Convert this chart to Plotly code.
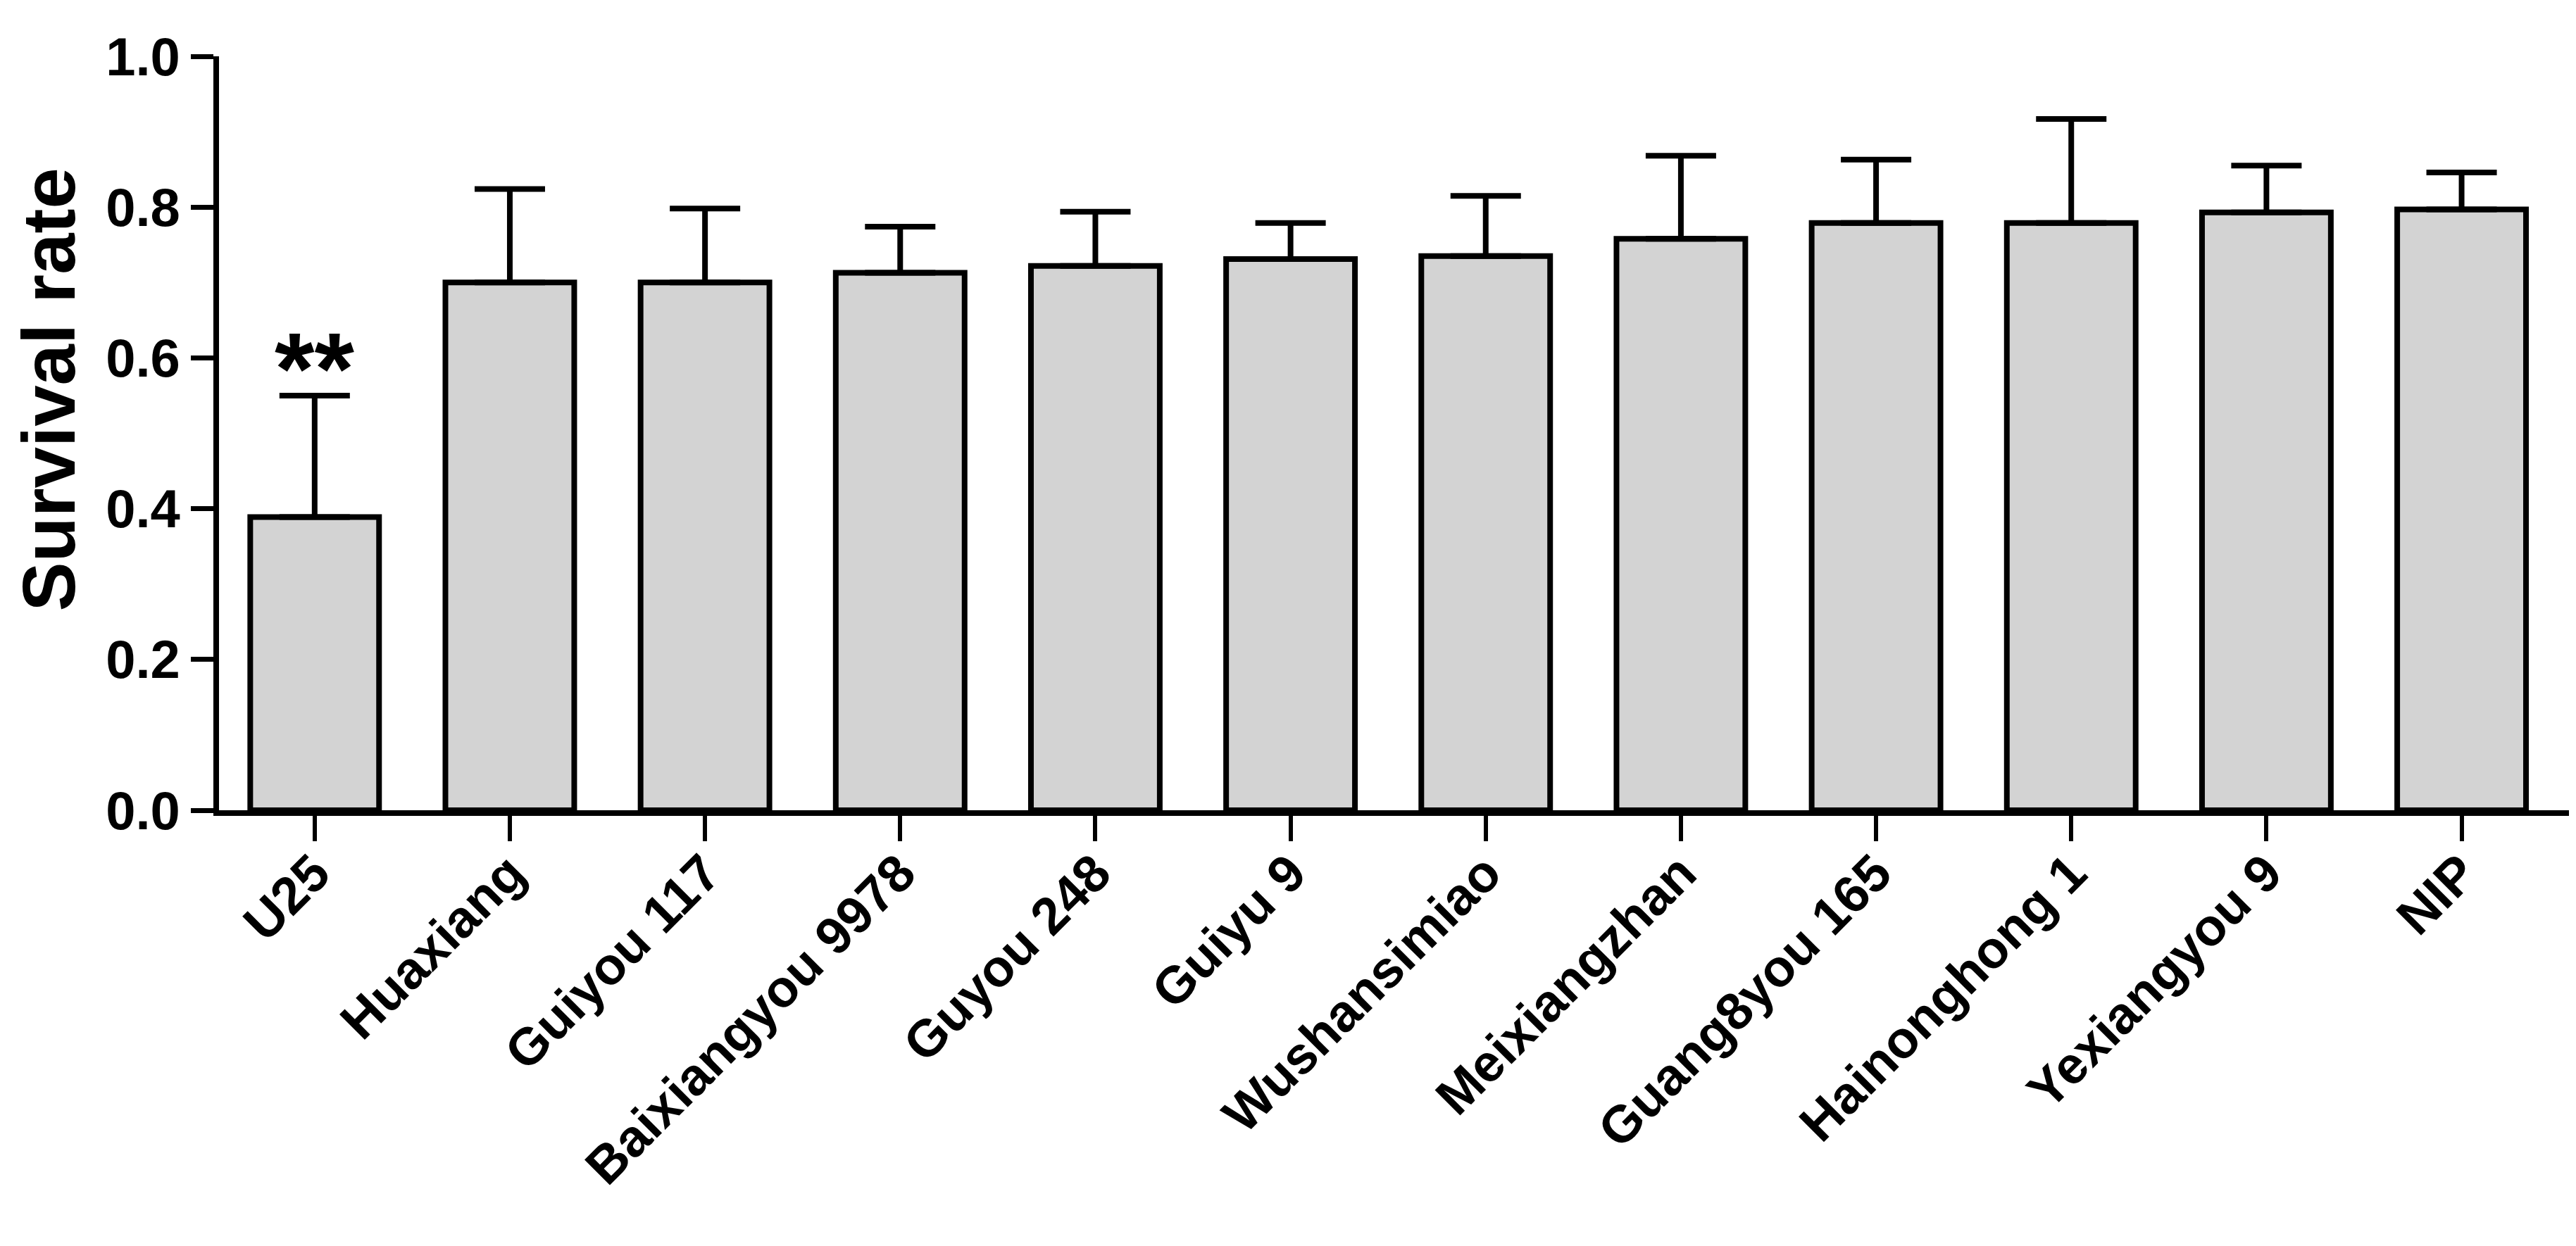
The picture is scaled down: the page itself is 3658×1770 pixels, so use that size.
import plotly.graph_objects as go

categories = ["U25", "Huaxiang", "Guiyou 117", "Baixiangyou 9978", "Guyou 248", "Guiyu 9",
              "Wushansimiao", "Meixiangzhan", "Guang8you 165", "Hainonghong 1", "Yexiangyou 9", "NIP"]
means = [0.389, 0.700, 0.700, 0.713, 0.722, 0.731, 0.735, 0.758, 0.779, 0.779, 0.793, 0.797]
upper = [0.550, 0.824, 0.798, 0.774, 0.794, 0.779, 0.815, 0.868, 0.863, 0.917, 0.855, 0.846]
errors = [u - m for u, m in zip(upper, means)]
yticks = [0.0, 0.2, 0.4, 0.6, 0.8, 1.0]

FONT = "Liberation Sans, Arial, sans-serif"

fig = go.Figure()
fig.add_trace(go.Bar(
    x=categories, y=means,
    width=0.66,
    marker=dict(color="#d3d3d3", line=dict(color="black", width=8)),
    error_y=dict(type="data", symmetric=False, array=errors, arrayminus=[0] * len(means),
                 color="black", thickness=8, width=50),
))

fig.add_annotation(x=categories[0], y=0.585, xref="x", yref="y", text="**", showarrow=False,
                   yanchor="middle", xanchor="center",
                   font=dict(family=FONT, size=145, color="black", weight="bold"))

fig.add_annotation(x=-0.0725, y=0.558, xref="paper", yref="paper", text="Survival rate",
                   showarrow=False, textangle=-90, xanchor="center", yanchor="middle",
                   font=dict(family=FONT, size=105, color="black", weight="bold"))

fig.update_layout(
    width=3658, height=1770,
    margin=dict(l=303, r=18, t=72, b=627),
    plot_bgcolor="white", paper_bgcolor="white",
    showlegend=False,
    bargap=0.34,
)
fig.update_xaxes(
    range=[-0.49, 11.55], showline=True, linewidth=8, linecolor="black",
    ticks="outside", ticklen=36, tickwidth=6, tickcolor="black",
    tickangle=-45, showgrid=False, zeroline=False, ticklabelstandoff=-28,
    tickfont=dict(family=FONT, size=74, color="black", weight="bold"),
)
fig.update_yaxes(
    range=[0, 1.0], tickvals=yticks, tickformat=".1f",
    showline=True, linewidth=8, linecolor="black",
    ticks="outside", ticklen=32, tickwidth=7, tickcolor="black",
    showgrid=False, zeroline=False,
    tickfont=dict(family=FONT, size=76, color="black", weight="bold"),
)

fig.write_html("out.html")
